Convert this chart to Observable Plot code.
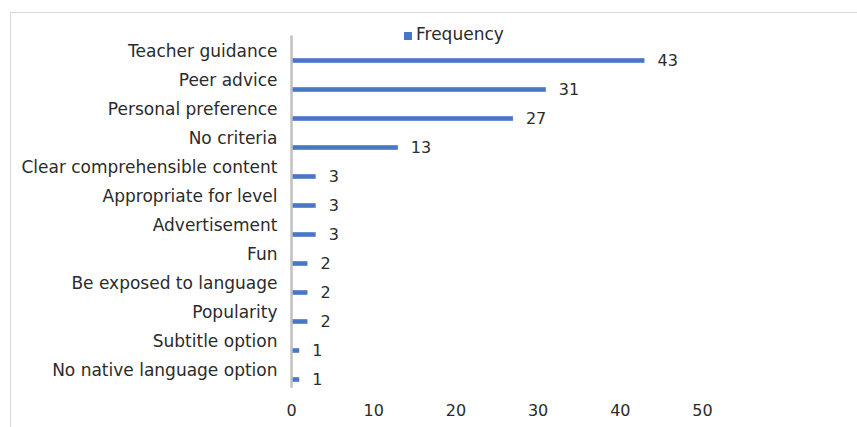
<!DOCTYPE html>
<html>
<head>
<meta charset="utf-8">
<script src="https://cdn.jsdelivr.net/npm/d3@7"></script>
<script src="https://cdn.jsdelivr.net/npm/@observablehq/plot@0.6"></script>
<style>
  body { margin: 0; background: #fff; font-family: "DejaVu Sans", sans-serif; }
  #wrap { position: relative; width: 857px; height: 427px; overflow: hidden; }
  #frame { position: absolute; left: 10px; top: 12px; width: 900px; height: 500px;
           border-left: 1px solid #d9d9d9; border-top: 1px solid #d9d9d9; }
  #legend { position: absolute; left: 404px; top: 24px; font-size: 17px; color: #2b2b2b;
            display: flex; align-items: center; line-height: 20px; }
  #legend span.sw { display: inline-block; width: 8px; height: 8px; background: #4a76c8; margin-right: 4px; margin-top: 3px; }
  #chart { position: absolute; left: 0; top: 0; }
</style>
</head>
<body>
<div id="wrap">
  <div id="frame"></div>
  <div id="chart"></div>
  <div id="legend"><span class="sw"></span>Frequency</div>
</div>
<script>
const categories = [
  "Teacher guidance",
  "Peer advice",
  "Personal preference",
  "No criteria",
  "Clear comprehensible content",
  "Appropriate for level",
  "Advertisement",
  "Fun",
  "Be exposed to language",
  "Popularity",
  "Subtitle option",
  "No native language option"
];
const frequency = [43, 31, 27, 13, 3, 3, 3, 2, 2, 2, 1, 1];
const xTicks = [0, 10, 20, 30, 40, 50];

const data = categories.map((c, i) => ({category: c, value: frequency[i]}));

const font = "DejaVu Sans, sans-serif";

const chart = Plot.plot({
  width: 857,
  height: 427,
  marginLeft: 291,
  marginRight: 155,
  marginTop: 43.6,
  marginBottom: 30.3,
  style: {fontFamily: font, fontSize: "17px", color: "#2b2b2b", background: "transparent"},
  x: {domain: [0, 50], ticks: xTicks},
  y: {domain: categories, padding: 0, axis: null},
  marks: [
    Plot.axisX({ticks: xTicks, tickSize: 0, tickPadding: 7, label: null, fontSize: 16, fill: "#2b2b2b"}),
    Plot.barX(data, {x: "value", y: "category", fill: "#4a76c8", insetTop: 12.2, insetBottom: 12.2}),
    Plot.ruleX([0], {stroke: "#c0c0c0", strokeWidth: 2.5, insetTop: -8, insetBottom: 9}),
    Plot.text(data, {x: 0, y: "category", text: "category", textAnchor: "end", dx: -14, dy: -9, fontSize: 17, fill: "#2b2b2b"}),
    Plot.text(data, {x: "value", y: "category", text: d => String(d.value), textAnchor: "start", dx: 12.5, dy: 0, fontSize: 16, fill: "#2b2b2b"})
  ]
});
document.getElementById("chart").appendChild(chart);
</script>
</body>
</html>
